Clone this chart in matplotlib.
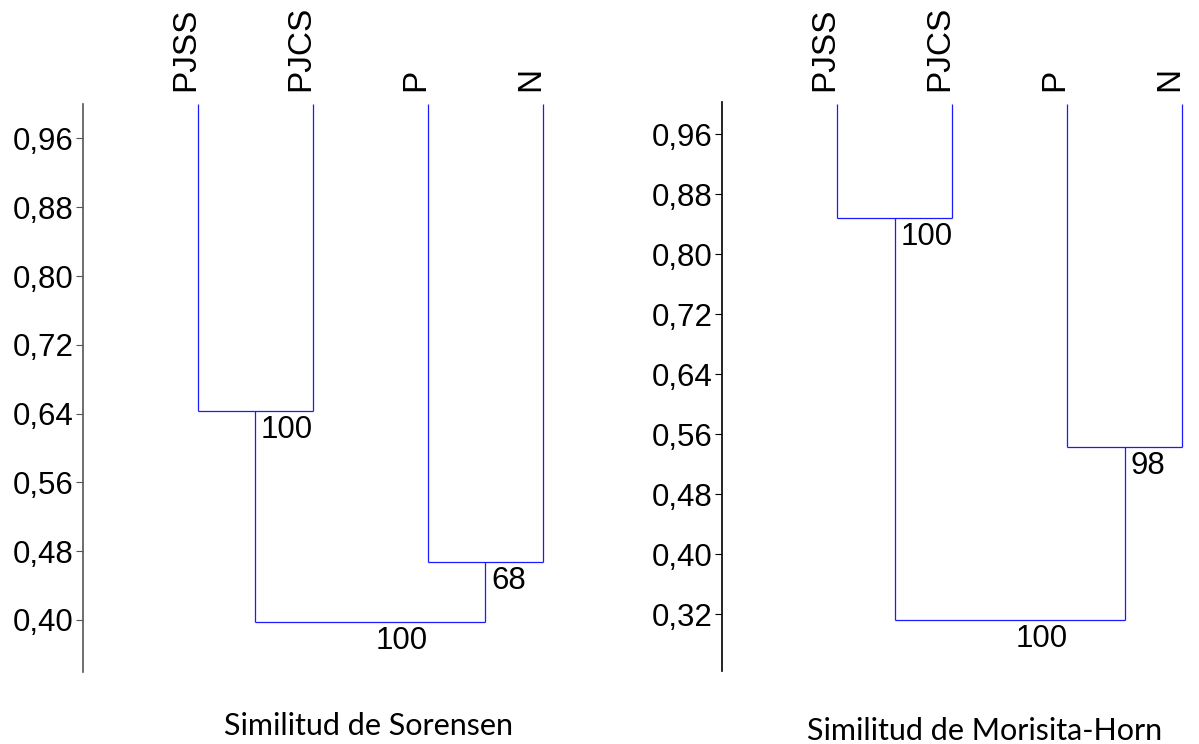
import matplotlib
matplotlib.use("Agg")
import matplotlib.pyplot as plt
import numpy as np

# Sites (leaves, left to right)
leaves = ["PJSS", "PJCS", "P", "N"]

# Merge order: (child_a, child_b); ids >= len(leaves) refer to earlier merges
merges = [(0, 1), (2, 3), (4, 5)]

# Sorensen similarity at each merge and bootstrap support
sorensen_heights = [0.6425, 0.4674, 0.3977]
sorensen_support = [100, 68, 100]

# Morisita-Horn similarity at each merge and bootstrap support
morisita_heights = [0.848, 0.5427, 0.312]
morisita_support = [100, 98, 100]

sorensen_ticks = [0.40, 0.48, 0.56, 0.64, 0.72, 0.80, 0.88, 0.96]
morisita_ticks = [0.32, 0.40, 0.48, 0.56, 0.64, 0.72, 0.80, 0.88, 0.96]

titles = ["Similitud de Sorensen", "Similitud de Morisita-Horn"]

plt.rcParams["font.family"] = ["Liberation Sans", "DejaVu Sans"]

W, H = 1199, 744
fig = plt.figure(figsize=(W / 100, H / 100), dpi=100)

LINE = "#1a1aff"
PX = 72 / 100  # points per pixel


def draw_dendrogram(ax, heights, support, ticks, ylim, spine_color):
    n = len(leaves)
    xpos = {i: float(i + 1) for i in range(n)}
    ypos = {i: 1.0 for i in range(n)}
    for k, (a, b) in enumerate(merges):
        h = heights[k]
        xa, xb = xpos[a], xpos[b]
        ax.plot([xa, xa], [ypos[a], h], color=LINE, lw=0.9, solid_capstyle="butt")
        ax.plot([xb, xb], [ypos[b], h], color=LINE, lw=0.9, solid_capstyle="butt")
        ax.plot([xa, xb], [h, h], color=LINE, lw=0.9, solid_capstyle="butt")
        node = n + k
        xpos[node] = (xa + xb) / 2
        ypos[node] = h
        ax.annotate(str(support[k]), (xpos[node], h), xytext=(6 * PX, -4 * PX),
                    textcoords="offset points", ha="left", va="top", fontsize=22.5)
    for i, name in enumerate(leaves):
        ax.annotate(name, (xpos[i], 1.0), xytext=(-12 * PX, 13 * PX),
                    textcoords="offset points", ha="center", va="bottom",
                    rotation=90, fontsize=24, annotation_clip=False)

    ax.set_xlim(0, 4.5)
    ax.set_ylim(*ylim)
    ax.set_yticks(ticks)
    ax.set_yticklabels([f"{t:.2f}".replace(".", ",") for t in ticks], fontsize=22.5)
    ax.tick_params(axis="y", direction="out", length=5, width=0.8, pad=1.5,
                   color=spine_color)
    ax.set_xticks([])
    for side in ["top", "right", "bottom"]:
        ax.spines[side].set_visible(False)
    ax.spines["left"].set_color(spine_color)
    ax.spines["left"].set_linewidth(1.2)
    ax.patch.set_visible(False)


ax1 = fig.add_axes([82.5 / W, 72 / H, 517.5 / W, (672 - 103.5) / H])
draw_dendrogram(ax1, sorensen_heights, sorensen_support, sorensen_ticks,
                (0.3395, 1.0007), "#555555")

ax2 = fig.add_axes([722 / W, 73 / H, 517.5 / W, (671 - 102) / H])
draw_dendrogram(ax2, morisita_heights, morisita_support, morisita_ticks,
                (0.244, 1.0027), "black")

fig.text(369 / W, 1 - 726 / H, titles[0], ha="center", va="center",
         fontsize=22, family=["Lato", "DejaVu Sans"])
fig.text(985 / W, 1 - 731 / H, titles[1], ha="center", va="center",
         fontsize=22, family=["Lato", "DejaVu Sans"])

fig.savefig("out.png", dpi=100, facecolor="white")
